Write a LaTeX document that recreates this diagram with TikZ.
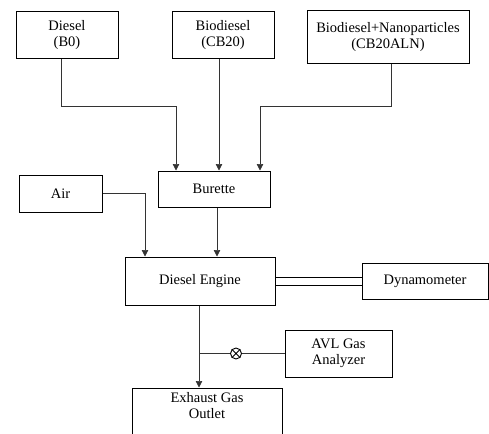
\documentclass[tikz,border=0pt]{standalone}
\usepackage{fontspec}
\setmainfont{Liberation Serif}
\usepackage{amsmath}
\usepackage{tikz}
\usetikzlibrary{arrows.meta, positioning, calc}

\begin{document}
\begin{tikzpicture}[x=1pt, y=-1pt,
    box/.style={draw, line width=1pt, align=center, inner sep=0pt,
      font=\fontsize{14.5}{16}\selectfont},
    feed/.style={line width=0.7pt, black!80, -{Triangle[length=6.5pt,width=6.5pt]}},
    line/.style={line width=0.7pt, black!80}]
    \useasboundingbox (0,0) rectangle (489,433);

    % fuel tanks
    \node[box, minimum width=102pt, minimum height=47pt] (diesel) at (67,35.5) {Diesel\\(B0)};
    \node[box, minimum width=102pt, minimum height=47pt] (bio) at (223,35.5) {Biodiesel\\(CB20)};
    \node[box, minimum width=162pt, minimum height=53pt] (nano) at (388,37.5) {Biodiesel+Nanoparticles\\(CB20ALN)};

    % fuel metering and air
    \node[box, minimum width=112pt, minimum height=36pt] (burette) at (214,189) {Burette};
    \node[box, minimum width=83pt, minimum height=37pt] (air) at (60.5,193.5) {Air};

    % engine and load
    \node[box, minimum width=150pt, minimum height=48pt] (engine) at (200,281) {Diesel Engine};
    \node[box, minimum width=126pt, minimum height=36pt] (dyno) at (425,281) {Dynamometer};

    % exhaust side
    \node[box, minimum width=107pt, minimum height=47pt] (avl) at (338.5,353.5) {AVL Gas\\Analyzer};
    \node[box, minimum width=150pt, minimum height=64pt] (exhaust) at (207,420) {Exhaust Gas\\Outlet\\[14pt]};

    % fuel lines
    \draw[feed] ([xshift=-6pt]diesel.south) -- ++(0,47) -| ([xshift=-38pt]burette.north);
    \draw[feed] ([xshift=-4pt]bio.south) -- ([xshift=5pt]burette.north);
    \draw[feed] ([xshift=3pt]nano.south) -- ++(0,42) -| ([xshift=46pt]burette.north);

    \draw[feed] (air.east) -| ([xshift=-55pt]engine.north);
    \draw[feed] ([xshift=3pt]burette.south) -- ([xshift=3pt]burette.south |- engine.north);

    % shaft
    \draw[line width=0.9pt] ([yshift=-4pt]engine.east) -- ([yshift=-4pt]dyno.west);
    \draw[line width=0.9pt] ([yshift=4pt]engine.east) -- ([yshift=4pt]dyno.west);

    % exhaust and sampling
    \draw[feed] ([xshift=-1pt]engine.south) -- ([xshift=-1pt]engine.south |- exhaust.north);
    \coordinate (tap) at ([xshift=-1pt]engine.south |- avl.west);
    \draw[line] (tap) -- (avl.west);
    \node[draw, line width=0.9pt, fill=white, circle, minimum size=11pt, inner sep=0pt] (valve) at (236,353.5) {};
    \draw[line width=0.9pt] (valve.45) -- (valve.225) (valve.135) -- (valve.315);
\end{tikzpicture}
\end{document}
